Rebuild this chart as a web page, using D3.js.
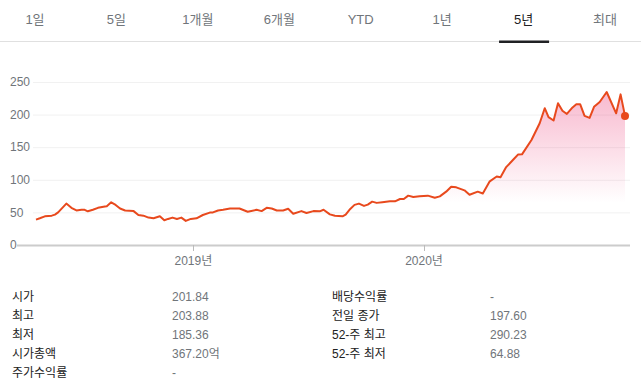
<!DOCTYPE html>
<html><head><meta charset="utf-8">
<script src="https://cdn.jsdelivr.net/npm/d3@7"></script>
<style>
body{margin:0;background:#fff;font-family:"Liberation Sans",Arial,"Noto Sans CJK KR",sans-serif;}
svg{display:block;}
</style></head>
<body>
<svg id="c" width="641" height="379"></svg>
<script>
const tabs = ["1일","5일","1개월","6개월","YTD","1년","5년","최대"];
const selectedTab = "5년";
const dates = ["2018-04-27","2018-05-03","2018-05-11","2018-05-22","2018-05-27","2018-06-01","2018-06-14","2018-06-22","2018-06-30","2018-07-08","2018-07-13","2018-07-18","2018-07-26","2018-08-03","2018-08-14","2018-08-17","2018-08-24","2018-08-31","2018-09-07","2018-09-15","2018-09-28","2018-10-06","2018-10-14","2018-10-22","2018-10-30","2018-11-09","2018-11-16","2018-11-22","2018-11-29","2018-12-06","2018-12-13","2018-12-20","2018-12-28","2019-01-06","2019-01-16","2019-01-27","2019-02-01","2019-02-09","2019-02-17","2019-02-28","2019-03-15","2019-03-28","2019-04-11","2019-04-19","2019-04-27","2019-05-05","2019-05-13","2019-05-23","2019-05-31","2019-06-08","2019-06-21","2019-06-29","2019-07-10","2019-07-20","2019-07-26","2019-08-05","2019-08-13","2019-08-25","2019-08-30","2019-09-05","2019-09-13","2019-09-20","2019-09-28","2019-10-04","2019-10-11","2019-10-18","2019-10-27","2019-11-08","2019-11-16","2019-11-24","2019-11-30","2019-12-07","2019-12-15","2019-12-25","2020-01-07","2020-01-18","2020-01-26","2020-02-05","2020-02-13","2020-02-21","2020-03-05","2020-03-13","2020-03-26","2020-04-03","2020-04-14","2020-04-25","2020-05-01","2020-05-10","2020-05-21","2020-05-29","2020-06-04","2020-06-19","2020-07-02","2020-07-10","2020-07-16","2020-07-24","2020-07-31","2020-08-07","2020-08-14","2020-08-23","2020-08-29","2020-09-04","2020-09-11","2020-09-19","2020-09-26","2020-10-05","2020-10-16","2020-10-31","2020-11-07","2020-11-14"];
const prices = [39,41,44,45,46.6,50,63.5,57,53,54,54,51.7,54,57,59,59.5,65.5,61.5,56,53,52.3,46,45,42,41,44,38,40,42,40,42,37,40,41,46,49.7,50,53,54,56,56,51,54,52,57,56,53,53,55.5,48,52,49,52,51.6,54,47,45,44,46.6,54,61.5,63.5,60,62,66.5,64.6,65.6,67,67,70.6,70.6,75.7,73.6,74.6,75.7,72.6,74.6,81.8,89.4,88.4,83.8,77,81.8,79,97.6,105,104,119.5,130.7,138.9,139,161,186.8,209.8,196,190.9,217.4,206,201,211,216,216,198,195,212,219.4,234.7,202,231,198];
const yTicks = [0,50,100,150,200,250];
const xTickDates = ["2019-01-01","2020-01-01"];
const xTickLabels = ["2019년","2020년"];
const statLabelsL = ["시가","최고","최저","시가총액","주가수익률"];
const statValuesL = ["201.84","203.88","185.36","367.20억","-"];
const statLabelsR = ["배당수익률","전일 종가","52-주 최고","52-주 최저"];
const statValuesR = ["-","197.60","290.23","64.88"];

const parse = d3.timeParse("%Y-%m-%d");
const data = dates.map((d,i)=>({date:parse(d), v:prices[i]}));
const svg = d3.select("#c");
const gray = "#70757a";

// tabs
const tabX = d3.scalePoint().domain(tabs).range([35, 605]);
svg.selectAll("text.tab").data(tabs).join("text")
  .attr("x", d=>tabX(d)).attr("y", 24).attr("text-anchor","middle")
  .attr("font-size",13).attr("fill", d=>d===selectedTab?"#202124":gray).text(d=>d);
svg.append("line").attr("x1",0).attr("x2",641).attr("y1",41.5).attr("y2",41.5).attr("stroke","#e0e0e0");
svg.append("rect").attr("x",tabX(selectedTab)-24.5).attr("y",40.5).attr("width",50).attr("height",2.5).attr("fill","#202124");

// scales
const x = d3.scaleTime().domain(d3.extent(data,d=>d.date)).range([36,625]);
const y = d3.scaleLinear().domain([0,250]).range([245,82]);

// grid
svg.append("g").selectAll("line").data(yTicks.filter(t=>t>0)).join("line")
  .attr("x1",33).attr("x2",630).attr("y1",d=>y(d)+0.5).attr("y2",d=>y(d)+0.5).attr("stroke","#f1f1f1");
svg.append("g").selectAll("text").data(yTicks).join("text")
  .attr("x",10).attr("y",d=>y(d)).attr("dy","0.35em").attr("font-size",12).attr("fill",gray).text(d=>d);

// gradient area
const defs = svg.append("defs");
const grad = defs.append("linearGradient").attr("id","g").attr("gradientUnits","userSpaceOnUse")
  .attr("x1",0).attr("x2",0).attr("y1",y(240)).attr("y2",y(65));
grad.append("stop").attr("offset",0).attr("stop-color","#e91e63").attr("stop-opacity",0.32);
grad.append("stop").attr("offset",1).attr("stop-color","#e91e63").attr("stop-opacity",0);
svg.append("path").datum(data).attr("fill","url(#g)")
  .attr("d", d3.area().x(d=>x(d.date)).y0(y(0)).y1(d=>y(d.v)));

// baseline
svg.append("line").attr("x1",17).attr("x2",630).attr("y1",y(0)+0.5).attr("y2",y(0)+0.5).attr("stroke","#cccccc").attr("stroke-width",2);
// x ticks
const xt = xTickDates.map((d,i)=>({d:parse(d), l:xTickLabels[i]}));
svg.append("g").selectAll("line").data(xt).join("line")
  .attr("x1",d=>Math.round(x(d.d))+0.5).attr("x2",d=>Math.round(x(d.d))+0.5).attr("y1",y(0)).attr("y2",y(0)+6).attr("stroke","#bbb");
svg.append("g").selectAll("text").data(xt).join("text")
  .attr("x",d=>x(d.d)).attr("y",y(0)+20).attr("text-anchor","middle").attr("font-size",12).attr("fill",gray).text(d=>d.l);

// line
svg.append("path").datum(data).attr("fill","none").attr("stroke","#e8491d").attr("stroke-width",2).attr("stroke-linejoin","round")
  .attr("d", d3.line().x(d=>x(d.date)).y(d=>y(d.v)));
const last = data[data.length-1];
svg.append("circle").attr("cx",x(last.date)).attr("cy",y(last.v)).attr("r",4).attr("fill","#e8491d");

// stats table
const rowY = i => 301 + i*19;
svg.append("g").selectAll("text").data(statLabelsL).join("text").attr("x",12).attr("y",(d,i)=>rowY(i)).attr("font-size",12).attr("fill","#222").text(d=>d);
svg.append("g").selectAll("text").data(statValuesL).join("text").attr("x",172).attr("y",(d,i)=>rowY(i)).attr("font-size",12).attr("fill",gray).text(d=>d);
svg.append("g").selectAll("text").data(statLabelsR).join("text").attr("x",332).attr("y",(d,i)=>rowY(i)).attr("font-size",12).attr("fill","#222").text(d=>d);
svg.append("g").selectAll("text").data(statValuesR).join("text").attr("x",490).attr("y",(d,i)=>rowY(i)).attr("font-size",12).attr("fill",gray).text(d=>d);
</script>
</body></html>
